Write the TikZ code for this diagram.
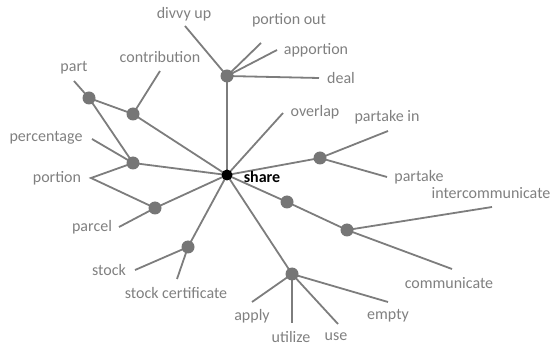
\documentclass[tikz,border=0pt]{standalone}
\usepackage{fontspec}
\setmainfont{Carlito}
\definecolor{edgegray}{RGB}{125,125,125}
\definecolor{dotgray}{RGB}{118,118,118}
\definecolor{textgray}{RGB}{128,128,128}
\begin{document}
\begin{tikzpicture}[x=1pt,y=-1pt,
  edge/.style={draw=edgegray,line width=1.8pt},
  gdot/.style={circle,fill=dotgray,inner sep=0pt,minimum size=13pt},
  hub/.style={circle,fill=black,inner sep=0pt,minimum size=11pt},
  lab/.style={text=textgray,font=\fontsize{16}{19}\selectfont,inner sep=0pt}]
\useasboundingbox (0,0) rectangle (554,347);
% hub and branch points
\coordinate (S) at (227,175);
\coordinate (Ppart) at (89,98);
\coordinate (Pcon) at (133,114);
\coordinate (Ppor) at (133,163);
\coordinate (Pdiv) at (227,76);
\coordinate (Ppar) at (155,208);
\coordinate (Pstk) at (188,247);
\coordinate (Ptak) at (320,158);
\coordinate (Pint) at (287,202);
\coordinate (Pcom) at (347,230);
\coordinate (Puse) at (292,274);
% leaf ends
\coordinate (Edivvy) at (185,26);
\coordinate (Eportout) at (261,43);
\coordinate (Eappor) at (277,50);
\coordinate (Edeal) at (319,78);
\coordinate (Econ) at (160,71);
\coordinate (Epart) at (74,81);
\coordinate (Eperc) at (92,139);
\coordinate (Eportion) at (91,178);
\coordinate (Eparcel) at (119,227);
\coordinate (Estock) at (135,270);
\coordinate (Estcert) at (177,279);
\coordinate (Eover) at (283,113);
\coordinate (Etakein) at (388,131);
\coordinate (Etake) at (387,177);
\coordinate (Eintc) at (492,207);
\coordinate (Ecomm) at (452,269);
\coordinate (Eapply) at (252,302);
\coordinate (Eutil) at (292,323);
\coordinate (Euse) at (338,324);
\coordinate (Eempty) at (388,302);
% connectors
\draw[edge] (S) -- (Pcon) -- (Ppart) -- (Ppor) -- (S);
\draw[edge] (Pcon) -- (Econ);
\draw[edge] (Ppart) -- (Epart);
\draw[edge] (Ppor) -- (Eperc);
\draw[edge] (Ppor) -- (Eportion) -- (Ppar);
\draw[edge] (S) -- (Ppar) -- (Eparcel);
\draw[edge] (S) -- (Pstk) -- (Estock);
\draw[edge] (Pstk) -- (Estcert);
\draw[edge] (S) -- (Pdiv) -- (Edivvy);
\draw[edge] (Pdiv) -- (Eportout);
\draw[edge] (Pdiv) -- (Eappor);
\draw[edge] (Pdiv) -- (Edeal);
\draw[edge] (S) -- (Eover);
\draw[edge] (S) -- (Ptak) -- (Etakein);
\draw[edge] (Ptak) -- (Etake);
\draw[edge] (S) -- (Pint) -- (Pcom) -- (Eintc);
\draw[edge] (Pcom) -- (Ecomm);
\draw[edge] (S) -- (Puse) -- (Eapply);
\draw[edge] (Puse) -- (Eutil);
\draw[edge] (Puse) -- (Euse);
\draw[edge] (Puse) -- (Eempty);
% dots
\node[hub] (share) at (S) {};
\foreach \p in {Ppart,Pcon,Ppor,Pdiv,Ppar,Pstk,Ptak,Pint,Pcom,Puse}
  \node[gdot] (d\p) at (\p) {};
% labels
\node[lab,text=black,font=\bfseries\fontsize{16}{19}\selectfont] (lshare) at (262,177) {share};
\node[lab] (ldivvy) at (184,14) {divvy up};
\node[lab] (lportout) at (289,20) {portion out};
\node[lab] (lappor) at (316,50) {apportion};
\node[lab] (ldeal) at (341,78) {deal};
\node[lab] (lcon) at (160,57) {contribution};
\node[lab] (lpart) at (74,68) {part};
\node[lab] (lperc) at (46,138) {percentage};
\node[lab] (lportion) at (57,178) {portion};
\node[lab] (lparcel) at (92,227) {parcel};
\node[lab] (lstock) at (109,270) {stock};
\node[lab] (lstcert) at (176,293) {stock certificate};
\node[lab] (lover) at (315,112) {overlap};
\node[lab] (ltakein) at (387,117) {partake in};
\node[lab] (ltake) at (419,177) {partake};
\node[lab] (lintc) at (491,193) {intercommunicate};
\node[lab] (lcomm) at (449,283) {communicate};
\node[lab] (lapply) at (252,316) {apply};
\node[lab] (lutil) at (291,337) {utilize};
\node[lab] (luse) at (336,337) {use};
\node[lab] (lempty) at (388,316) {empty};
\end{tikzpicture}
\end{document}
